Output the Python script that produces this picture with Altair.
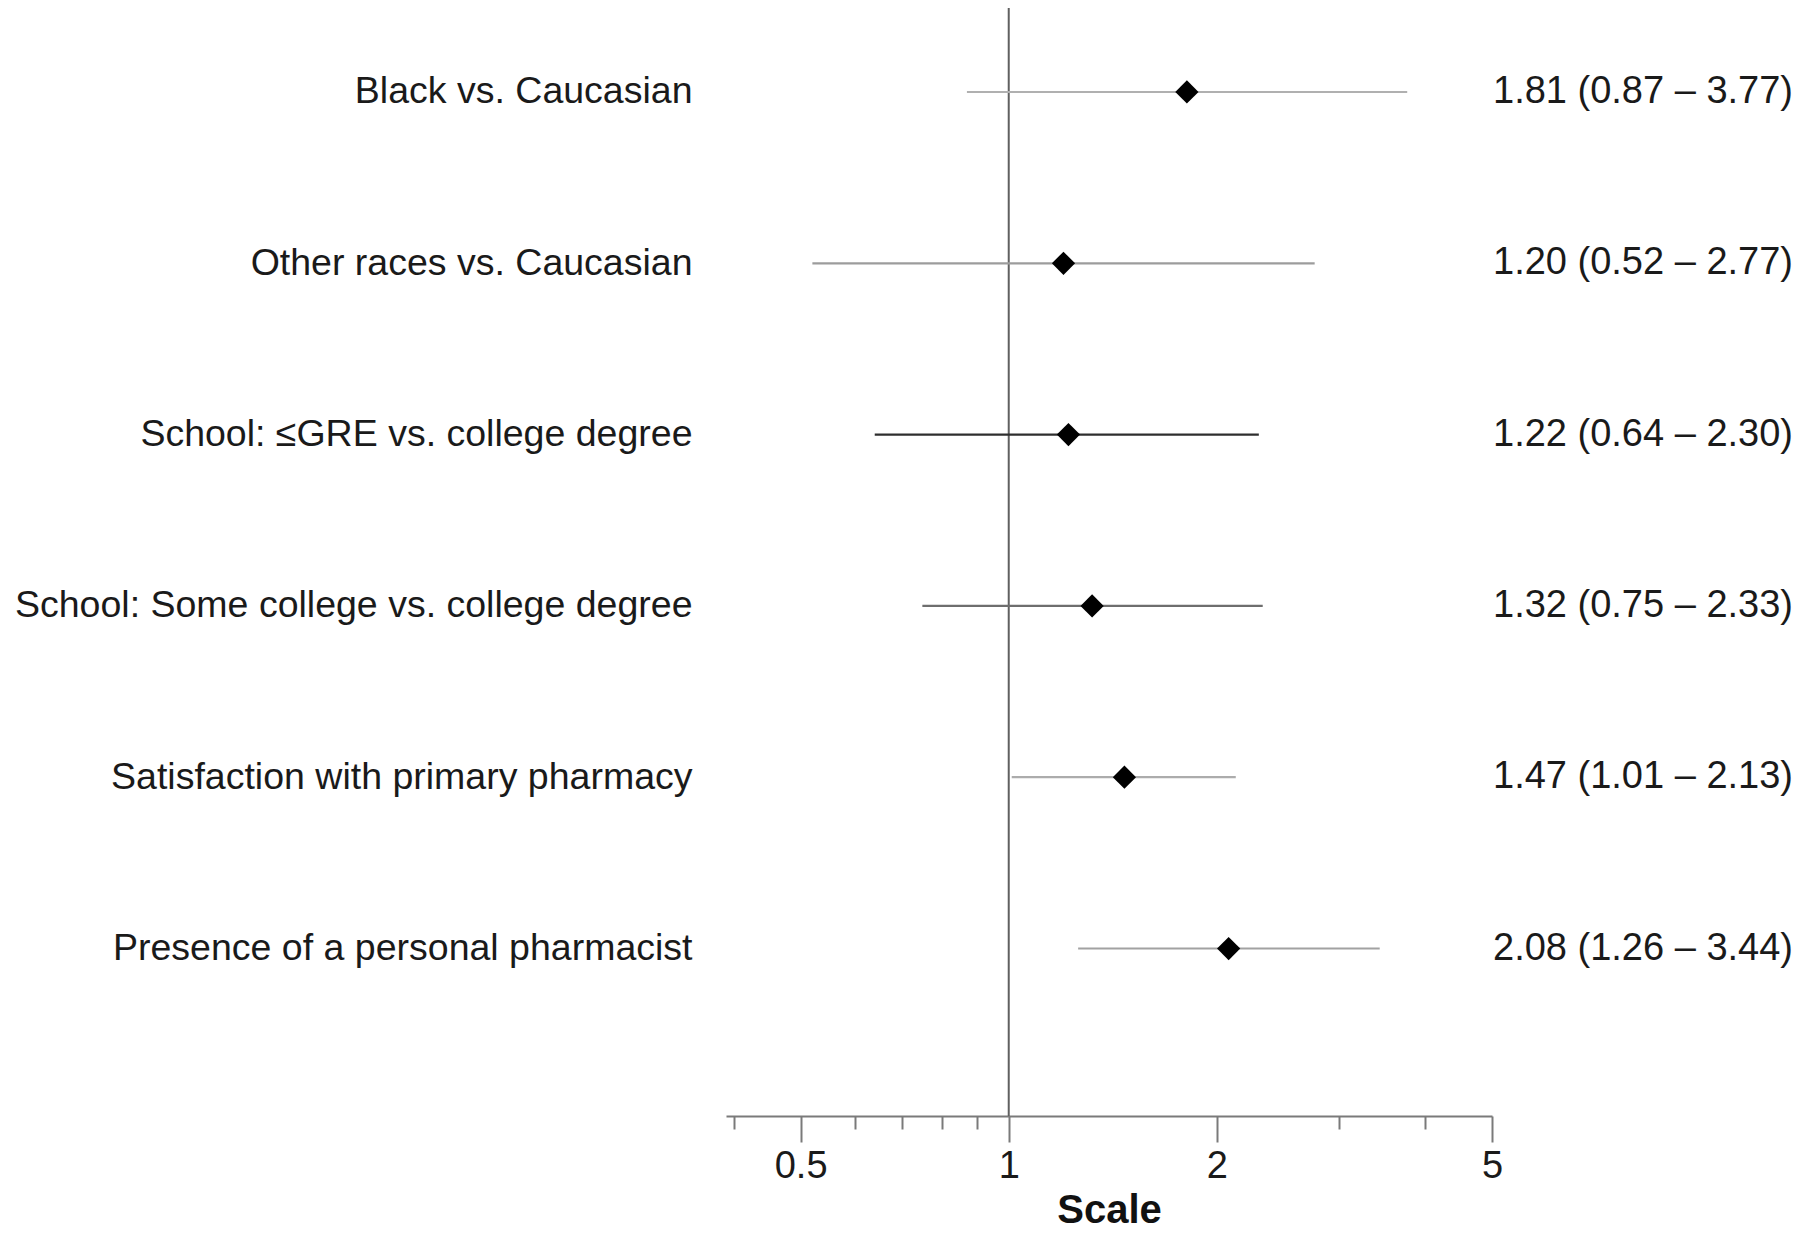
import altair as alt
import pandas as pd

# ---- data ----
labels = [
    "Black vs. Caucasian",
    "Other races vs. Caucasian",
    "School: \u2264GRE vs. college degree",
    "School: Some college vs. college degree",
    "Satisfaction with primary pharmacy\u00a0",
    "Presence of a personal pharmacist",
]
odds_ratio = [1.81, 1.20, 1.22, 1.32, 1.47, 2.08]
ci_low = [0.87, 0.52, 0.64, 0.75, 1.01, 1.26]
ci_high = [3.77, 2.77, 2.30, 2.33, 2.13, 3.44]

tick_values = [0.4, 0.5, 0.6, 0.7, 0.8, 0.9, 1, 2, 3, 4, 5]
major_ticks = [0.5, 1, 2, 5]

# ---- styles ----
ci_colors = ["#b0b0b0", "#9c9c9c", "#2e2e2e", "#6e6e6e", "#acacac", "#a2a2a2"]
FONT = "Liberation Sans"

df = pd.DataFrame({"label": labels, "or": odds_ratio, "lo": ci_low, "hi": ci_high})
df["text"] = [f"{o:.2f} ({l:.2f} \u2013 {h:.2f})" for o, l, h in zip(odds_ratio, ci_low, ci_high)]

W, H = 766, 1108

major_test = " || ".join(f"datum.value == {v}" for v in major_ticks)

xscale = alt.Scale(type="log", domain=[0.39, 5], nice=False)
yscale = alt.Scale(type="point", domain=labels, padding=0.734, align=0.334)

xaxis = alt.Axis(
    values=tick_values,
    format="~g",
    labelExpr=f"({major_test}) ? datum.label : ''",
    tickSize={"condition": {"test": major_test, "value": 26}, "value": 13},
    tickColor="#7a7a7a",
    tickWidth=2,
    domainColor="#7a7a7a",
    domainWidth=2,
    grid=False,
    labelFontSize=38,
    labelFont=FONT,
    labelColor="#1a1a1a",
    labelPadding=5,
    labelFlush=False,
    labelOverlap=False,
    title="Scale",
    titleFontSize=40,
    titleFont=FONT,
    titleFontWeight="bold",
    titleColor="#111111",
    titleBaseline="alphabetic",
    titleY=106,
)

yaxis = alt.Axis(
    title=None,
    domain=False,
    ticks=False,
    grid=False,
    labelFontSize=37.5,
    labelFont=FONT,
    labelColor="#1a1a1a",
    labelPadding=34,
    labelLimit=0,
)

base = alt.Chart(df)

ref_line = alt.Chart(pd.DataFrame({"v": [1]})).mark_rule(
    color="#606060", strokeWidth=2
).encode(x=alt.X("v:Q", scale=xscale, axis=xaxis))

ci = base.mark_rule(strokeWidth=2.2).encode(
    x=alt.X("lo:Q", scale=xscale, axis=xaxis),
    x2="hi:Q",
    y=alt.Y("label:N", scale=yscale, sort=labels, axis=yaxis),
    color=alt.Color("label:N", scale=alt.Scale(domain=labels, range=ci_colors), legend=None),
)

pts = base.mark_point(shape="diamond", filled=True, size=540, color="black", opacity=1).encode(
    x=alt.X("or:Q", scale=xscale, axis=xaxis),
    y=alt.Y("label:N", scale=yscale, sort=labels, axis=yaxis),
)

txt = base.mark_text(align="right", baseline="middle", fontSize=38, font=FONT, color="#1a1a1a").encode(
    x=alt.value(1067),
    y=alt.Y("label:N", scale=yscale, sort=labels, axis=yaxis),
    text="text:N",
)

chart = (
    alt.layer(ref_line, ci, pts, txt)
    .properties(
        width=W,
        height=H,
        autosize=alt.AutoSizeParams(type="none"),
        padding={"left": 718, "top": 0, "right": 300, "bottom": 118},
        background="white",
    )
    .configure_view(stroke=None)
)

chart.save("out.html", embed_options={"renderer": "svg", "actions": False})
